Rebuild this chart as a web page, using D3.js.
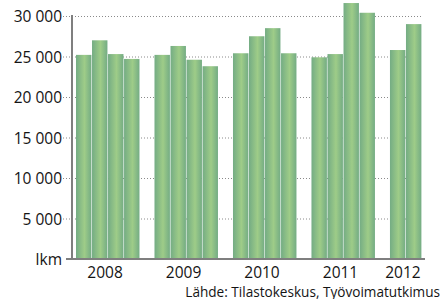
<!DOCTYPE html>
<html>
<head>
<meta charset="utf-8">
<script src="https://cdn.jsdelivr.net/npm/d3@7"></script>
<style>
  body { margin: 0; background: #fff; }
  text { font-family: "Open Sans", sans-serif; fill: #141414; }
</style>
</head>
<body>
<svg id="chart" width="444" height="299"></svg>
<script>
const years = ["2008", "2009", "2010", "2011", "2012"];
// quarterly values, lkm
const values2008 = [25200, 27000, 25300, 24700];
const values2009 = [25200, 26300, 24600, 23800];
const values2010 = [25400, 27500, 28500, 25400];
const values2011 = [24900, 25300, 31600, 30400];
const values2012 = [25800, 29000];
const yTicks = [0, 5000, 10000, 15000, 20000, 25000, 30000];
const sourceText = "Lähde: Tilastokeskus, Työvoimatutkimus";

const series = [values2008, values2009, values2010, values2011, values2012];

const svg = d3.select("#chart");

// gradient used on every bar
const grad = svg.append("defs").append("linearGradient")
    .attr("id", "barGrad")
    .attr("x1", 0).attr("x2", 1).attr("y1", 0).attr("y2", 0);
grad.append("stop").attr("offset", "0%").attr("stop-color", "#74ac84");
grad.append("stop").attr("offset", "55%").attr("stop-color", "#9ecc88");
grad.append("stop").attr("offset", "100%").attr("stop-color", "#74ac84");

const groupStep = 4.9; // 4 quarters + a gap, in bar slots
const y = d3.scaleLinear().domain([0, 30000]).range([259, 16]);
const x = d3.scaleLinear().domain([0, 4 * groupStep + 2]).range([76, 422]);
const slot = x(1) - x(0);

// gridlines
svg.append("g")
  .selectAll("line")
  .data(yTicks.filter(d => d > 0))
  .join("line")
    .attr("x1", 63)
    .attr("x2", 423)
    .attr("y1", d => y(d) + 0.5)
    .attr("y2", d => y(d) + 0.5)
    .attr("stroke", "#8a8a8a")
    .attr("stroke-width", 1)
    .attr("stroke-dasharray", "1,2");

// bars
const bars = [];
series.forEach((vals, yi) => {
    vals.forEach((v, q) => bars.push({ year: yi, q: q, value: v }));
});

svg.append("g")
  .selectAll("rect")
  .data(bars)
  .join("rect")
    .attr("x", d => x(d.year * groupStep + d.q))
    .attr("y", d => y(d.value))
    .attr("width", slot - 0.6)
    .attr("height", d => y(0) - y(d.value))
    .attr("fill", "url(#barGrad)");

// axes lines
svg.append("line")
    .attr("x1", 72).attr("x2", 72)
    .attr("y1", 15).attr("y2", 260)
    .attr("stroke", "#7f7f7f")
    .attr("stroke-width", 2);
svg.append("line")
    .attr("x1", 66).attr("x2", 425)
    .attr("y1", 259).attr("y2", 259)
    .attr("stroke", "#7f7f7f")
    .attr("stroke-width", 2);

// y tick labels
const fmt = d => d === 0 ? "lkm" : d3.format(",")(d).replace(",", " ");
svg.append("g")
  .selectAll("text")
  .data(yTicks)
  .join("text")
    .attr("x", 62)
    .attr("y", d => y(d) + 6)
    .attr("text-anchor", "end")
    .attr("font-size", 15.5)
    .text(fmt);

// year labels
svg.append("g")
  .selectAll("text")
  .data(years)
  .join("text")
    .attr("x", (d, i) => {
        const n = series[i].length;
        return (x(i * groupStep) + x(i * groupStep + n)) / 2 - 3;
    })
    .attr("y", 277.5)
    .attr("text-anchor", "middle")
    .attr("font-size", 15.5)
    .text(d => d);

// source
svg.append("text")
    .attr("x", 440)
    .attr("y", 296.5)
    .attr("text-anchor", "end")
    .attr("font-size", 13.6)
    .text(sourceText);
</script>
</body>
</html>
